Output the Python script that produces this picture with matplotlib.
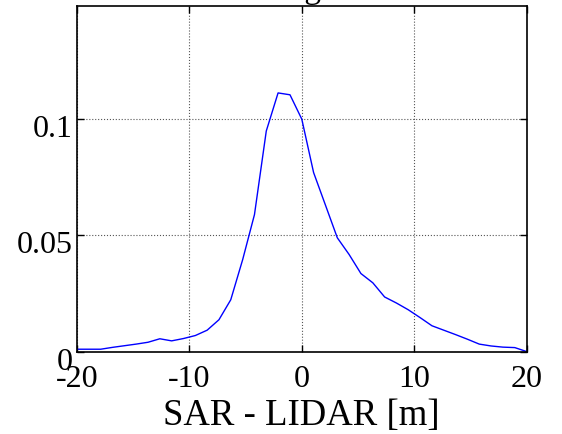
import matplotlib
matplotlib.use("Agg")
import matplotlib.pyplot as plt
import matplotlib.transforms as mtransforms

plt.rcParams['font.family'] = ['Liberation Serif', 'DejaVu Serif']

# histogram of SAR - LIDAR differences (bin centres and relative frequency)
x_bins = [-20.0, -18.95, -17.89, -16.84, -15.79, -14.74, -13.68, -12.63, -11.58,
          -10.53, -9.47, -8.42, -7.37, -6.32, -5.26, -4.21, -3.16, -2.11, -1.05,
          0.0, 1.05, 2.11, 3.16, 4.21, 5.26, 6.32, 7.37, 8.42, 9.47, 10.53,
          11.58, 12.63, 13.68, 14.74, 15.79, 16.84, 17.89, 18.95, 20.0]
freq = [0.001, 0.001, 0.001, 0.0018, 0.0025, 0.0032, 0.004, 0.0055, 0.0046,
        0.0056, 0.0069, 0.0092, 0.0137, 0.0223, 0.0396, 0.059, 0.095, 0.1114,
        0.1106, 0.1001, 0.0771, 0.063, 0.049, 0.0418, 0.0336, 0.0296, 0.0235,
        0.0209, 0.018, 0.0146, 0.0111, 0.0092, 0.0073, 0.0053, 0.0032, 0.0024,
        0.0019, 0.0017, 0.0]

x_ticks = [-20, -10, 0, 10, 20]
y_ticks = [0, 0.05, 0.1]
y_tick_labels = ['0', '0.05', '0.1']

fig = plt.figure(figsize=(5.62, 4.34), dpi=100)
ax = fig.add_axes([0.137, 0.19, 0.8, 0.797])

ax.plot(x_bins, freq, color=(0, 0, 1), linewidth=1.0)

ax.set_xlim(-20, 20)
ax.set_ylim(0, 0.149)
ax.set_xticks(x_ticks)
ax.set_xticklabels([str(t) for t in x_ticks])
ax.set_yticks(y_ticks)
ax.set_yticklabels(y_tick_labels)

ax.grid(True, color='#555555', linestyle=':', linewidth=0.8)
ax.tick_params(direction='in', length=5, width=1, top=True, right=True,
               labelsize=23)
ax.tick_params(axis='x', pad=10)
ax.tick_params(axis='y', pad=3)
for s in ax.spines.values():
    s.set_linewidth(1.2)

# matlab-style: y labels sit a little below their ticks
shift = mtransforms.ScaledTranslation(0, -0.07, fig.dpi_scale_trans)
for lab in ax.get_yticklabels():
    lab.set_transform(lab.get_transform() + shift)

ax.set_xlabel('SAR - LIDAR [m]', fontsize=26.5, labelpad=3)

# title sits mostly above the figure, only the descender shows
fig.text(302 / 562, 1.004, 'Histogram', ha='center', va='baseline', fontsize=24)

fig.savefig('out.png', dpi=100)
